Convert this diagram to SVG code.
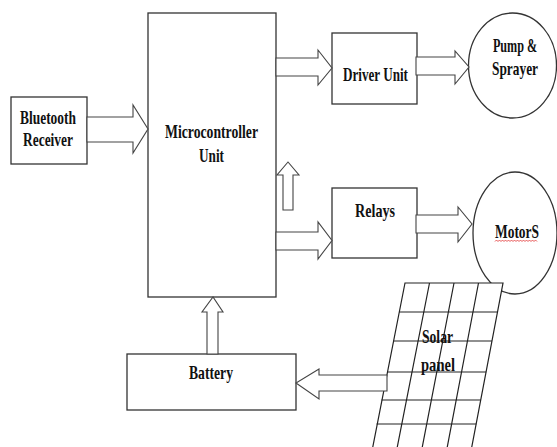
<svg xmlns="http://www.w3.org/2000/svg" width="557" height="447" viewBox="0 0 557 447">
<style>
.box{fill:#fff;stroke:#333;stroke-width:1.3}
.arr{fill:#fff;stroke:#444;stroke-width:1.1;stroke-linejoin:miter}
.grid{fill:none;stroke:#222;stroke-width:1.2}
text{font-family:"Liberation Serif","Times New Roman",serif;font-weight:bold;font-size:19px;fill:#111;text-anchor:middle}
</style>
<rect width="557" height="447" fill="#fff"/>
<g id="mcu">
<rect class="box" x="148" y="13" width="128" height="284"/>
<text x="211.5" y="137.5" textLength="93" lengthAdjust="spacingAndGlyphs">Microcontroller</text>
<text x="211.5" y="162" textLength="25" lengthAdjust="spacingAndGlyphs">Unit</text>
</g>
<g id="bluetooth">
<rect class="box" x="11" y="97" width="76" height="67"/>
<text x="48" y="124" textLength="56" lengthAdjust="spacingAndGlyphs">Bluetooth</text>
<text x="48" y="146" textLength="50" lengthAdjust="spacingAndGlyphs">Receiver</text>
</g>
<g id="driver">
<rect class="box" x="332" y="33" width="85" height="71"/>
<text x="375.5" y="80.5" textLength="65" lengthAdjust="spacingAndGlyphs">Driver Unit</text>
</g>
<g id="pump">
<ellipse class="box" cx="512.5" cy="65.5" rx="44" ry="52.5"/>
<text transform="translate(515,52) scale(0.64,1)" x="0" y="0">Pump &amp;</text>
<text x="515" y="74.5" textLength="46" lengthAdjust="spacingAndGlyphs">Sprayer</text>
</g>
<g id="relays">
<rect class="box" x="332" y="188" width="85" height="70"/>
<text x="375" y="216.5" textLength="40" lengthAdjust="spacingAndGlyphs">Relays</text>
</g>
<g id="motors">
<ellipse class="box" cx="515" cy="233" rx="42" ry="61"/>
<text x="517" y="237.5" textLength="44" lengthAdjust="spacingAndGlyphs">MotorS</text>
<path d="M495 241.5 l1.5 -1.5 l1.5 1.5 l1.5 -1.5 l1.5 1.5 l1.5 -1.5 l1.5 1.5 l1.5 -1.5 l1.5 1.5 l1.5 -1.5 l1.5 1.5 l1.5 -1.5 l1.5 1.5 l1.5 -1.5 l1.5 1.5 l1.5 -1.5 l1.5 1.5 l1.5 -1.5 l1.5 1.5 l1.5 -1.5 l1.5 1.5 l1.5 -1.5 l1.5 1.5 l1.5 -1.5 l1.5 1.5 l1.5 -1.5 l1.5 1.5 l1.5 -1.5 l1.5 1.5" fill="none" stroke="#e03030" stroke-width="0.8"/>
</g>
<g id="solar">
<polygon points="405,283 503,283 471,451 372,451" fill="#fff" stroke="#222" stroke-width="1.2"/>
<path class="grid" d="M429.5,283 L396.5,451 M454,283 L421.5,451 M478.5,283 L446.5,451 M399.2,312 L497.5,312 M393.3,341 L492,341 M387.1,372 L486.2,372 M381.5,400 L480.9,400 M376.6,424 L476.3,424"/>
<text x="437.5" y="343" textLength="31" lengthAdjust="spacingAndGlyphs">Solar</text>
<text x="438" y="370.5" textLength="34" lengthAdjust="spacingAndGlyphs">panel</text>
</g>
<g id="battery">
<rect class="box" x="127" y="354" width="169" height="56"/>
<text x="211" y="378.5" textLength="44" lengthAdjust="spacingAndGlyphs">Battery</text>
</g>
<g id="connectors">
<polygon class="arr" points="87,117 133,117 133,105 148,129 133,153 133,142 87,142"/>
<polygon class="arr" points="276,58 318,58 318,50 332,68 318,85 318,76 276,76"/>
<polygon class="arr" points="416,57 455,57 455,51 469,67 455,84 455,75 416,75"/>
<polygon class="arr" points="276,232 318,232 318,222 332,240.5 318,259 318,250 276,250"/>
<polygon class="arr" points="416,215 458,215 458,207 472,224 458,242 458,233 416,233"/>
<polygon class="arr" points="283,210 283,175 277,175 288,162 299,175 293,175 293,210"/>
<polygon class="arr" points="207,354 207,312 202,312 213,297 223,312 218,312 218,354"/>
<polygon class="arr" points="387,375 319,375 319,369 296,383 319,399 319,391 387,391"/>
</g>
</svg>
